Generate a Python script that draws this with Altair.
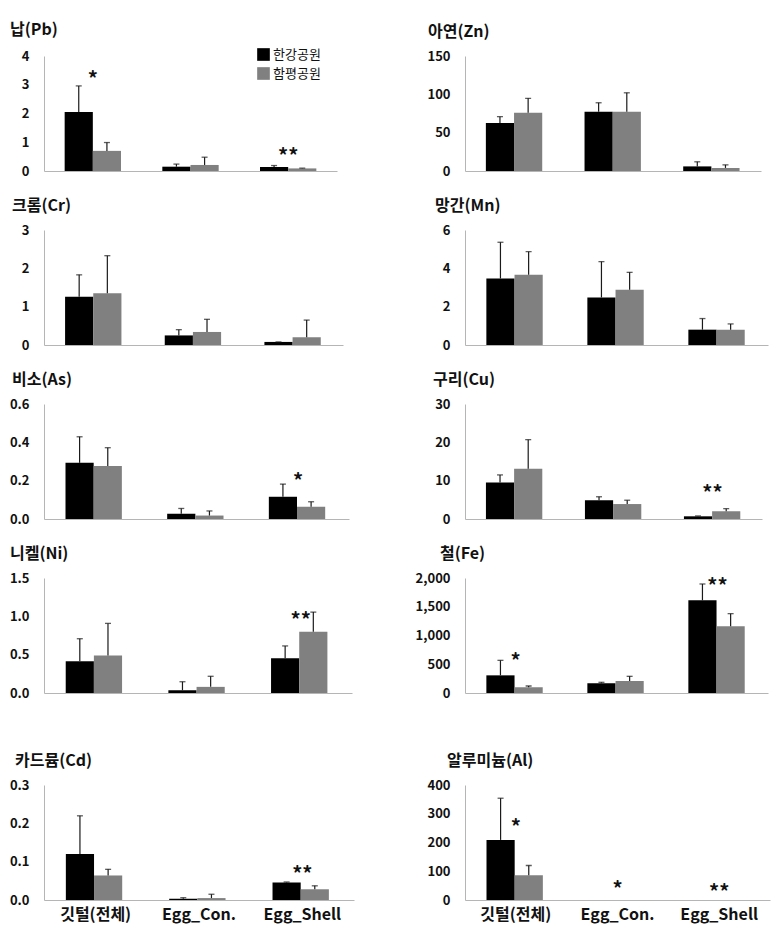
import altair as alt
import pandas as pd

FONT = "Noto Sans CJK KR"
groups = ["깃털(전체)", "Egg_Con.", "Egg_Shell"]
sites = ["한강공원", "함평공원"]
site_colors = ["#000000", "#808080"]

# means and SD (upper error) per metal, order = groups
pb_han = [2.05, 0.15, 0.14]; pb_han_sd = [0.91, 0.09, 0.05]
pb_ham = [0.70, 0.21, 0.09]; pb_ham_sd = [0.29, 0.27, 0.01]
zn_han = [62.6, 77.4, 6.0]; zn_han_sd = [8.3, 11.6, 6.0]
zn_ham = [76.0, 77.4, 4.0]; zn_ham_sd = [18.8, 24.6, 4.0]
cr_han = [1.26, 0.25, 0.08]; cr_han_sd = [0.57, 0.15, 0.0]
cr_ham = [1.35, 0.34, 0.20]; cr_ham_sd = [0.98, 0.33, 0.45]
mn_han = [3.47, 2.48, 0.80]; mn_han_sd = [1.89, 1.87, 0.58]
mn_ham = [3.66, 2.88, 0.80]; mn_ham_sd = [1.21, 0.91, 0.30]
as_han = [0.293, 0.028, 0.116]; as_han_sd = [0.136, 0.027, 0.066]
as_ham = [0.277, 0.018, 0.064]; as_ham_sd = [0.095, 0.024, 0.026]
cu_han = [9.5, 4.9, 0.7]; cu_han_sd = [2.0, 0.9, 0.1]
cu_ham = [13.1, 3.9, 2.0]; cu_ham_sd = [7.6, 1.0, 0.7]
ni_han = [0.414, 0.036, 0.454]; ni_han_sd = [0.294, 0.111, 0.160]
ni_ham = [0.49, 0.08, 0.80]; ni_ham_sd = [0.418, 0.138, 0.255]
fe_han = [307, 168, 1612]; fe_han_sd = [261, 18, 284]
fe_ham = [99, 209, 1159]; fe_ham_sd = [23, 81, 221]
cd_han = [0.120, 0.0035, 0.0455]; cd_han_sd = [0.0996, 0.0025, 0.0015]
cd_ham = [0.064, 0.005, 0.028]; cd_ham_sd = [0.016, 0.010, 0.009]
al_han = [209, 0, 0]; al_han_sd = [145, 0, 0]
al_ham = [86.5, 0, 0]; al_ham_sd = [33.5, 0, 0]

# significance marks: (group, label, y position)
pb_sig = [("깃털(전체)", "*", 3.33), ("Egg_Shell", "**", 0.66)]
as_sig = [("Egg_Shell", "*", 0.217)]
cu_sig = [("Egg_Shell", "**", 7.9)]
ni_sig = [("Egg_Shell", "**", 1.0)]
fe_sig = [("깃털(전체)", "*", 626), ("Egg_Shell", "**", 1930)]
cd_sig = [("Egg_Shell", "**", 0.079)]
al_sig = [("깃털(전체)", "*", 269), ("Egg_Con.", "*", 53), ("Egg_Shell", "**", 42)]

AXIS_GRAY = "#b5b5b5"


def make_df(han, han_sd, ham, ham_sd):
    rows = []
    for i, g in enumerate(groups):
        rows.append(dict(group=g, site=sites[0], mean=han[i], top=han[i] + han_sd[i]))
        rows.append(dict(group=g, site=sites[1], mean=ham[i], top=ham[i] + ham_sd[i]))
    return pd.DataFrame(rows)


def panel(title, df, sig, yvals, fmt, width, tdx, bottom=False, legend=False):
    xscale = alt.Scale(domain=groups, paddingInner=0.423, paddingOuter=0.2115)
    xaxis = alt.Axis(title=None, labels=bottom, ticks=False, domainColor=AXIS_GRAY,
                     labelFontSize=16, labelFontWeight="bold", labelPadding=6,
                     labelColor="#111111", labelAngle=0, labelFont=FONT)
    yscale = alt.Scale(domain=[yvals[0], yvals[-1]], nice=False)
    yaxis = alt.Axis(title=None, values=yvals, format=fmt, grid=False, ticks=False,
                     domainColor=AXIS_GRAY, labelFontSize=13, labelFontWeight="bold",
                     labelPadding=15, labelColor="#111111", labelFont=FONT)
    xo = alt.XOffset("site:N", scale=alt.Scale(domain=sites, paddingInner=0, paddingOuter=0))
    if legend:
        leg = alt.Legend(orient="none", legendX=213, legendY=-8, title=None,
                         symbolType="square", symbolSize=160, symbolStrokeWidth=0,
                         labelFontSize=13, labelFont=FONT, rowPadding=5, padding=0,
                         labelOffset=3, labelColor="#111111")
    else:
        leg = None
    color = alt.Color("site:N", scale=alt.Scale(domain=sites, range=site_colors), legend=leg)

    def X():
        return alt.X("group:N", scale=xscale, axis=xaxis, sort=groups)

    def Y(field):
        return alt.Y(field, scale=yscale, axis=yaxis)

    base = alt.Chart(df)
    bars = base.mark_bar().encode(x=X(), xOffset=xo, y=Y("mean:Q"), color=color)
    errdf = base.transform_filter("datum.mean > 0")
    rules = errdf.mark_rule(color="#1a1a1a", strokeWidth=1.2).encode(
        x=X(), xOffset=xo, y=Y("mean:Q"), y2="top:Q")
    caps = errdf.mark_tick(color="#1a1a1a", size=6, thickness=1.3).encode(
        x=X(), xOffset=xo, y=Y("top:Q"))
    layers = [bars, rules, caps]
    if sig:
        sdf = pd.DataFrame([dict(group=g, label=l, y=v) for g, l, v in sig])
        txt = alt.Chart(sdf).mark_text(fontSize=20, fontWeight="bold", font=FONT,
                                       baseline="middle", dy=5, color="#111111").encode(
            x=X(), y=Y("y:Q"), text="label:N")
        layers.append(txt)
    return alt.layer(*layers).properties(
        width=width, height=115,
        title=alt.TitleParams(title, anchor="start", frame="group", dx=tdx, fontSize=16,
                              fontWeight="bold", font=FONT, color="#111111", offset=10),
    )


p_pb = panel("납(Pb)", make_df(pb_han, pb_han_sd, pb_ham, pb_ham_sd), pb_sig, [0, 1, 2, 3, 4], "d", 293, -34, legend=True)
p_zn = panel("아연(Zn)", make_df(zn_han, zn_han_sd, zn_ham, zn_ham_sd), None, [0, 50, 100, 150], "d", 296, -37)
p_cr = panel("크롬(Cr)", make_df(cr_han, cr_han_sd, cr_ham, cr_ham_sd), None, [0, 1, 2, 3], "d", 299, -32)
p_mn = panel("망간(Mn)", make_df(mn_han, mn_han_sd, mn_ham, mn_ham_sd), None, [0, 2, 4, 6], "d", 303, -30)
p_as = panel("비소(As)", make_df(as_han, as_han_sd, as_ham, as_ham_sd), as_sig, [0, 0.2, 0.4, 0.6], ".1f", 305, -32)
p_cu = panel("구리(Cu)", make_df(cu_han, cu_han_sd, cu_ham, cu_ham_sd), cu_sig, [0, 10, 20, 30], "d", 297, -32)
p_ni = panel("니켈(Ni)", make_df(ni_han, ni_han_sd, ni_ham, ni_ham_sd), ni_sig, [0, 0.5, 1.0, 1.5], ".1f", 308, -34)
p_fe = panel("철(Fe)", make_df(fe_han, fe_han_sd, fe_ham, fe_ham_sd), fe_sig, [0, 500, 1000, 1500, 2000], ",d", 303, -25)
p_cd = panel("카드뮴(Cd)", make_df(cd_han, cd_han_sd, cd_ham, cd_ham_sd), cd_sig, [0, 0.1, 0.2, 0.3], ".1f", 310, -29, bottom=True)
p_al = panel("알루미늄(Al)", make_df(al_han, al_han_sd, al_ham, al_ham_sd), al_sig, [0, 100, 200, 300, 400], "d", 305, -18, bottom=True)

left = alt.vconcat(
    alt.vconcat(p_pb, p_cr, p_as, p_ni, spacing=20).resolve_scale(color="independent"),
    p_cd, spacing=53).resolve_scale(color="independent")
right = alt.vconcat(
    alt.vconcat(p_zn, p_mn, p_cu, p_fe, spacing=20).resolve_scale(color="independent"),
    p_al, spacing=53).resolve_scale(color="independent")

chart = alt.hconcat(left, right, spacing=61).resolve_scale(color="independent").properties(
    padding={"left": 9, "top": 22, "right": 5, "bottom": 5}
).configure(font=FONT, background="white").configure_view(stroke=None)

chart.save("out.html", embed_options={"renderer": "svg", "actions": False})
